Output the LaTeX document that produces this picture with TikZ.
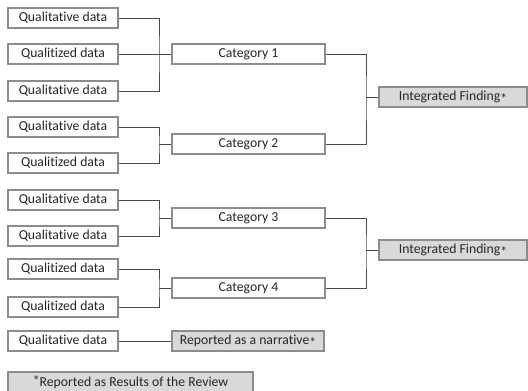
\documentclass[tikz,border=0pt]{standalone}
\usepackage{fontspec}
\setmainfont{Carlito}[Ligatures={NoCommon}]
\definecolor{boxline}{HTML}{8C8C8C}
\definecolor{conn}{HTML}{4A4A4A}
\definecolor{boxfill}{HTML}{D9D9D9}
\definecolor{txt}{HTML}{262626}
\newcommand{\myast}{\raisebox{-0.45ex}{*}}
\begin{document}
\begin{tikzpicture}[x=1pt,y=-1pt,
  base/.style={draw=boxline,line width=1.2pt,inner sep=0pt,minimum height=20pt,
    font=\fontsize{13.7}{15}\selectfont,text=txt},
  databox/.style={base,fill=white,minimum width=110pt},
  catbox/.style={base,fill=white,minimum width=153pt},
  graybox/.style={base,fill=boxfill},
  conline/.style={draw=conn,line width=1pt}]
\useasboundingbox (0,0) rectangle (528,391);
% data boxes
\node[databox] (d1) at (63,18) {Qualitative data};
\node[databox] (d2) at (63,54) {Qualitized data};
\node[databox] (d3) at (63,91) {Qualitative data};
\node[databox] (d4) at (63,127) {Qualitative data};
\node[databox] (d5) at (63,163) {Qualitized data};
\node[databox] (d6) at (63,200) {Qualitative data};
\node[databox] (d7) at (63,236) {Qualitative data};
\node[databox] (d8) at (63,269) {Qualitized data};
\node[databox] (d9) at (63,307) {Qualitized data};
\node[databox] (d10) at (63,341) {Qualitative data};
% categories
\node[catbox] (c1) at (248.5,54) {Category 1};
\node[catbox] (c2) at (248.5,144) {Category 2};
\node[catbox] (c3) at (248.5,218) {Category 3};
\node[catbox] (c4) at (248.5,288) {Category 4};
\node[graybox,minimum width=152pt] (n) at (248,341) {Reported as a narrative\myast};
% integrated findings
\node[graybox,minimum width=148pt] (i1) at (453,97) {Integrated Finding\myast};
\node[graybox,minimum width=148pt] (i2) at (453,250) {Integrated Finding\myast};
% footnote
\node[graybox,minimum width=245pt] (fn) at (130.5,382) {\raisebox{0.15ex}{*}Reported as Results of the Review};
% joints
\coordinate (j1) at (159,54);
\coordinate (j2) at (159,144);
\coordinate (j3) at (159,218);
\coordinate (j4) at (159,288);
\coordinate (k1) at (366,97);
\coordinate (k2) at (366,250);
% connectors
\draw[conline] (d1.east) -| (j1) |- (d3.east);
\draw[conline] (d2.east) -- (c1.west);
\draw[conline] (d4.east) -| (j2) |- (d5.east);
\draw[conline] (j2) -- (c2.west);
\draw[conline] (d6.east) -| (j3) |- (d7.east);
\draw[conline] (j3) -- (c3.west);
\draw[conline] (d8.east) -| (j4) |- (d9.east);
\draw[conline] (j4) -- (c4.west);
\draw[conline] (c1.east) -| (k1) |- (c2.east);
\draw[conline] (k1) -- (i1.west);
\draw[conline] (c3.east) -| (k2) |- (c4.east);
\draw[conline] (k2) -- (i2.west);
\draw[conline] (d10.east) -- (n.west);
\end{tikzpicture}
\end{document}
